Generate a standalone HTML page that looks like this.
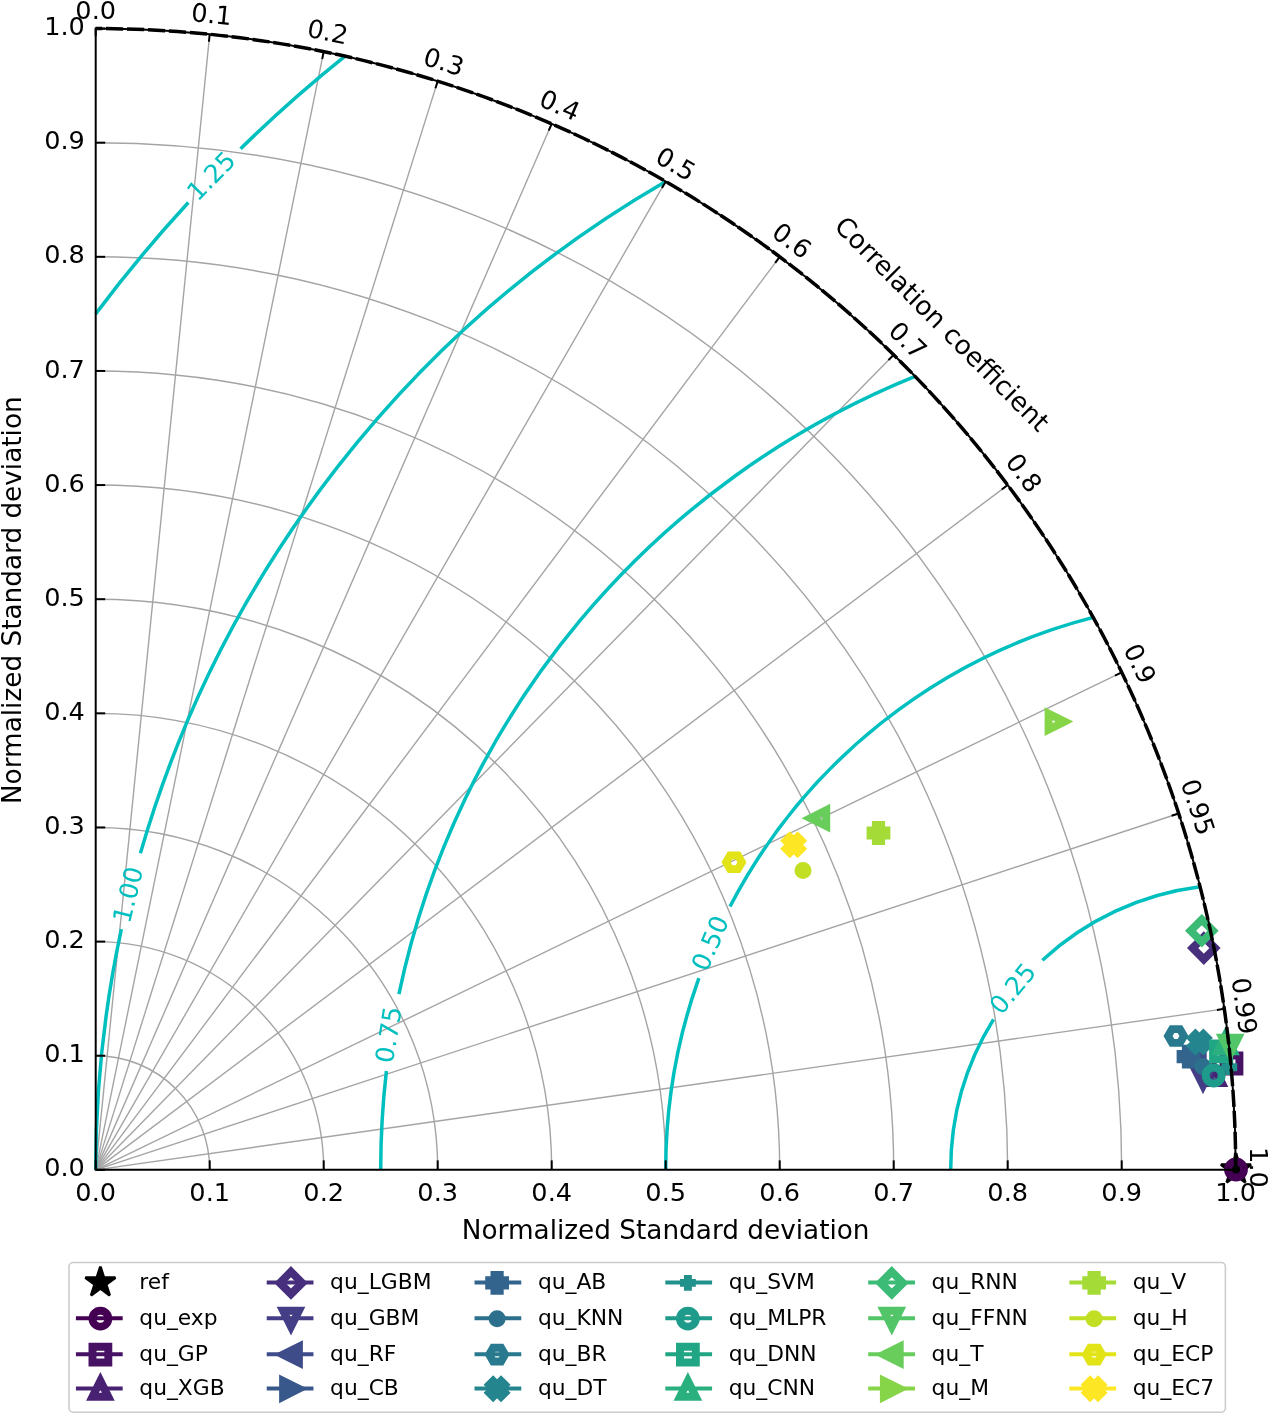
<!DOCTYPE html>
<html><head><meta charset="utf-8"><title>Taylor diagram</title>
<style>html,body{margin:0;padding:0;background:#fff}svg{display:block}</style></head>
<body>
<svg width="1268" height="1415" viewBox="0 0 1268 1415" font-family="DejaVu Sans, Liberation Sans, sans-serif">
<rect width="1268" height="1415" fill="#fff"/>
<defs><filter id="soft" x="0" y="0" width="100%" height="100%" filterUnits="userSpaceOnUse" color-interpolation-filters="sRGB"><feGaussianBlur stdDeviation="0.6"/></filter></defs>
<g filter="url(#soft)">
<rect width="1268" height="1415" fill="#fff"/>
<g stroke="#a4a4a4" stroke-width="1.4" fill="none">
<line x1="95.7" y1="1169.85" x2="209.70" y2="34.27"/>
<line x1="95.7" y1="1169.85" x2="323.70" y2="51.61"/>
<line x1="95.7" y1="1169.85" x2="437.70" y2="81.12"/>
<line x1="95.7" y1="1169.85" x2="551.70" y2="123.83"/>
<line x1="95.7" y1="1169.85" x2="665.70" y2="181.46"/>
<line x1="95.7" y1="1169.85" x2="779.70" y2="256.81"/>
<line x1="95.7" y1="1169.85" x2="893.70" y2="354.80"/>
<line x1="95.7" y1="1169.85" x2="1007.70" y2="485.07"/>
<line x1="95.7" y1="1169.85" x2="1121.70" y2="672.37"/>
<line x1="95.7" y1="1169.85" x2="1178.70" y2="813.48"/>
<line x1="95.7" y1="1169.85" x2="1224.30" y2="1008.85"/>
<path d="M95.7,1055.72 A114.00,114.13 0 0 1 209.70,1169.85"/>
<path d="M95.7,941.59 A228.00,228.26 0 0 1 323.70,1169.85"/>
<path d="M95.7,827.46 A342.00,342.39 0 0 1 437.70,1169.85"/>
<path d="M95.7,713.33 A456.00,456.52 0 0 1 551.70,1169.85"/>
<path d="M95.7,599.20 A570.00,570.65 0 0 1 665.70,1169.85"/>
<path d="M95.7,485.07 A684.00,684.78 0 0 1 779.70,1169.85"/>
<path d="M95.7,370.94 A798.00,798.91 0 0 1 893.70,1169.85"/>
<path d="M95.7,256.81 A912.00,913.04 0 0 1 1007.70,1169.85"/>
<path d="M95.7,142.68 A1026.00,1027.17 0 0 1 1121.70,1169.85"/>
</g>
<g><g stroke="#00bfbf" stroke-width="3.5" fill="none">
<path d="M95.70,313.88 A1425.00,1426.62 0 0 1 188.32,202.51"/>
<path d="M240.60,148.69 A1425.00,1426.62 0 0 1 345.07,56.19"/>
<path d="M95.70,1169.85 A1140.00,1141.30 0 0 1 121.36,929.06"/>
<path d="M140.41,853.35 A1140.00,1141.30 0 0 1 665.70,181.46"/>
<path d="M380.70,1169.85 A855.00,855.97 0 0 1 386.41,1071.07"/>
<path d="M398.93,994.02 A855.00,855.97 0 0 1 915.08,376.34"/>
<path d="M665.70,1169.85 A570.00,570.65 0 0 1 698.86,978.05"/>
<path d="M730.01,906.53 A570.00,570.65 0 0 1 1093.20,617.32"/>
<path d="M950.70,1169.85 A285.00,285.32 0 0 1 993.51,1019.45"/>
<path d="M1042.39,960.19 A285.00,285.32 0 0 1 1200.08,886.76"/>
</g></g>
<text x="210.90" y="175.70" transform="rotate(-45.80 210.90 175.70)" font-size="25.4" fill="#00bfbf" text-anchor="middle" dy="0.36em">1.25</text>
<text x="127.80" y="894.60" transform="rotate(-76.10 127.80 894.60)" font-size="25.4" fill="#00bfbf" text-anchor="middle" dy="0.36em">1.00</text>
<text x="388.30" y="1034.60" transform="rotate(-80.92 388.30 1034.60)" font-size="25.4" fill="#00bfbf" text-anchor="middle" dy="0.36em">0.75</text>
<text x="709.90" y="943.10" transform="rotate(-66.60 709.90 943.10)" font-size="25.4" fill="#00bfbf" text-anchor="middle" dy="0.36em">0.50</text>
<text x="1012.50" y="988.40" transform="rotate(-50.60 1012.50 988.40)" font-size="25.4" fill="#00bfbf" text-anchor="middle" dy="0.36em">0.25</text>
<polygon points="1236.00,1153.66 1232.44,1164.61 1220.94,1164.61 1230.25,1171.37 1226.69,1182.31 1236.00,1175.55 1245.31,1182.31 1241.75,1171.37 1251.06,1164.61 1239.56,1164.61" fill="#000" stroke="#000" stroke-width="2.64" stroke-linejoin="bevel"/>
<polygon points="1219.42,1072.00 1203.58,1079.92 1203.58,1064.08" fill="none" stroke="#38588c" stroke-width="7.92" stroke-linejoin="miter"/>
<circle cx="1236.00" cy="1169.50" r="7.92" fill="none" stroke="#440154" stroke-width="7.92"/>
<polygon points="1223.58,1071.42 1239.42,1071.42 1239.42,1055.58 1223.58,1055.58" fill="none" stroke="#471164" stroke-width="7.92" stroke-linejoin="miter"/>
<polygon points="1214.00,1067.08 1206.08,1082.92 1221.92,1082.92" fill="none" stroke="#482173" stroke-width="7.92" stroke-linejoin="miter"/>
<polygon points="1203.80,936.90 1215.00,948.10 1203.80,959.30 1192.60,948.10" fill="none" stroke="#472f7d" stroke-width="7.92" stroke-linejoin="miter"/>
<polygon points="1203.00,1085.32 1195.08,1069.48 1210.92,1069.48" fill="none" stroke="#433e85" stroke-width="7.92" stroke-linejoin="miter"/>
<polygon points="1186.88,1056.00 1202.72,1063.92 1202.72,1048.08" fill="none" stroke="#3e4c8a" stroke-width="7.92" stroke-linejoin="miter"/>
<polygon points="1185.86,1064.52 1191.14,1064.52 1191.14,1059.24 1196.42,1059.24 1196.42,1053.96 1191.14,1053.96 1191.14,1048.68 1185.86,1048.68 1185.86,1053.96 1180.58,1053.96 1180.58,1059.24 1185.86,1059.24" fill="none" stroke="#32648e" stroke-width="7.92" stroke-linejoin="miter"/>
<circle cx="1202.80" cy="1066.60" r="4.56" stroke="#2d708e" stroke-width="7.92" fill="#2d708e"/>
<polygon points="1183.92,1036.00 1179.96,1029.14 1172.04,1029.14 1168.08,1036.00 1172.04,1042.86 1179.96,1042.86" fill="none" stroke="#297a8e" stroke-width="7.92" stroke-linejoin="miter"/>
<polygon points="1195.44,1049.92 1199.40,1045.96 1203.36,1049.92 1207.32,1045.96 1203.36,1042.00 1207.32,1038.04 1203.36,1034.08 1199.40,1038.04 1195.44,1034.08 1191.48,1038.04 1195.44,1042.00 1191.48,1045.96" fill="none" stroke="#25858e" stroke-width="7.92" stroke-linejoin="miter"/>
<path d="M1221.38,1067.20 H1237.22 M1229.30,1059.28 V1075.12" fill="none" stroke="#21918c" stroke-width="7.92"/>
<circle cx="1213.70" cy="1075.50" r="7.92" fill="none" stroke="#1e9b8a" stroke-width="7.92"/>
<polygon points="1213.08,1059.32 1228.92,1059.32 1228.92,1043.48 1213.08,1043.48" fill="none" stroke="#21a685" stroke-width="7.92" stroke-linejoin="miter"/>
<polygon points="1225.50,1035.38 1217.58,1051.22 1233.42,1051.22" fill="none" stroke="#2ab07f" stroke-width="7.92" stroke-linejoin="miter"/>
<polygon points="1201.80,919.60 1213.00,930.80 1201.80,942.00 1190.60,930.80" fill="none" stroke="#3bbb75" stroke-width="7.92" stroke-linejoin="miter"/>
<polygon points="1230.20,1053.62 1222.28,1037.78 1238.12,1037.78" fill="none" stroke="#52c569" stroke-width="7.92" stroke-linejoin="miter"/>
<polygon points="810.38,818.20 826.22,826.12 826.22,810.28" fill="none" stroke="#69cd5b" stroke-width="7.92" stroke-linejoin="miter"/>
<polygon points="1064.42,721.60 1048.58,729.52 1048.58,713.68" fill="none" stroke="#86d549" stroke-width="7.92" stroke-linejoin="miter"/>
<polygon points="875.86,840.92 881.14,840.92 881.14,835.64 886.42,835.64 886.42,830.36 881.14,830.36 881.14,825.08 875.86,825.08 875.86,830.36 870.58,830.36 870.58,835.64 875.86,835.64" fill="none" stroke="#a5db36" stroke-width="7.92" stroke-linejoin="miter"/>
<circle cx="803.00" cy="870.50" r="4.56" stroke="#c2df23" stroke-width="7.92" fill="#c2df23"/>
<polygon points="741.92,862.30 737.96,855.44 730.04,855.44 726.08,862.30 730.04,869.16 737.96,869.16" fill="none" stroke="#e2e418" stroke-width="7.92" stroke-linejoin="miter"/>
<polygon points="789.74,852.62 793.70,848.66 797.66,852.62 801.62,848.66 797.66,844.70 801.62,840.74 797.66,836.78 793.70,840.74 789.74,836.78 785.78,840.74 789.74,844.70 785.78,848.66" fill="none" stroke="#fde725" stroke-width="7.92" stroke-linejoin="miter"/>
<g stroke="#000" stroke-width="2.00" fill="none">
<path d="M95.7,28.549999999999955 V1169.85 H1235.7" stroke-linecap="square"/>
<path d="M95.7,28.549999999999955 A1140.0,1141.3 0 0 1 1235.7,1169.85"/>
<line x1="95.7" y1="1169.85" x2="105.2" y2="1169.85"/>
<line x1="95.70" y1="1169.85" x2="95.70" y2="1160.35"/>
<line x1="95.7" y1="1055.72" x2="105.2" y2="1055.72"/>
<line x1="209.70" y1="1169.85" x2="209.70" y2="1160.35"/>
<line x1="95.7" y1="941.59" x2="105.2" y2="941.59"/>
<line x1="323.70" y1="1169.85" x2="323.70" y2="1160.35"/>
<line x1="95.7" y1="827.46" x2="105.2" y2="827.46"/>
<line x1="437.70" y1="1169.85" x2="437.70" y2="1160.35"/>
<line x1="95.7" y1="713.33" x2="105.2" y2="713.33"/>
<line x1="551.70" y1="1169.85" x2="551.70" y2="1160.35"/>
<line x1="95.7" y1="599.20" x2="105.2" y2="599.20"/>
<line x1="665.70" y1="1169.85" x2="665.70" y2="1160.35"/>
<line x1="95.7" y1="485.07" x2="105.2" y2="485.07"/>
<line x1="779.70" y1="1169.85" x2="779.70" y2="1160.35"/>
<line x1="95.7" y1="370.94" x2="105.2" y2="370.94"/>
<line x1="893.70" y1="1169.85" x2="893.70" y2="1160.35"/>
<line x1="95.7" y1="256.81" x2="105.2" y2="256.81"/>
<line x1="1007.70" y1="1169.85" x2="1007.70" y2="1160.35"/>
<line x1="95.7" y1="142.68" x2="105.2" y2="142.68"/>
<line x1="1121.70" y1="1169.85" x2="1121.70" y2="1160.35"/>
<line x1="95.7" y1="28.55" x2="105.2" y2="28.55"/>
<line x1="1235.70" y1="1169.85" x2="1235.70" y2="1160.35"/>
<line x1="95.70" y1="28.55" x2="95.70" y2="36.05"/>
<line x1="209.70" y1="34.27" x2="208.95" y2="41.73"/>
<line x1="323.70" y1="51.61" x2="322.20" y2="58.96"/>
<line x1="437.70" y1="81.12" x2="435.45" y2="88.27"/>
<line x1="551.70" y1="123.83" x2="548.70" y2="130.71"/>
<line x1="665.70" y1="181.46" x2="661.95" y2="187.95"/>
<line x1="779.70" y1="256.81" x2="775.20" y2="262.81"/>
<line x1="893.70" y1="354.80" x2="888.45" y2="360.15"/>
<line x1="1007.70" y1="485.07" x2="1001.70" y2="489.57"/>
<line x1="1121.70" y1="672.37" x2="1114.95" y2="675.64"/>
<line x1="1178.70" y1="813.48" x2="1171.58" y2="815.82"/>
<line x1="1224.30" y1="1008.85" x2="1216.88" y2="1009.91"/>
<line x1="1235.70" y1="1169.85" x2="1228.20" y2="1169.85"/>
</g>
<path d="M1235.7,1169.85 A1140.0,1141.3 0 0 0 95.7,28.549999999999955" stroke="#000" stroke-width="3.5" stroke-dasharray="17.2 3.8" fill="none"/>
<g font-size="25.6" fill="#000">
<text x="84.90" y="1176.45" text-anchor="end">0.0</text>
<text x="95.70" y="1201.3" text-anchor="middle">0.0</text>
<text x="84.90" y="1062.32" text-anchor="end">0.1</text>
<text x="209.70" y="1201.3" text-anchor="middle">0.1</text>
<text x="84.90" y="948.19" text-anchor="end">0.2</text>
<text x="323.70" y="1201.3" text-anchor="middle">0.2</text>
<text x="84.90" y="834.06" text-anchor="end">0.3</text>
<text x="437.70" y="1201.3" text-anchor="middle">0.3</text>
<text x="84.90" y="719.93" text-anchor="end">0.4</text>
<text x="551.70" y="1201.3" text-anchor="middle">0.4</text>
<text x="84.90" y="605.80" text-anchor="end">0.5</text>
<text x="665.70" y="1201.3" text-anchor="middle">0.5</text>
<text x="84.90" y="491.67" text-anchor="end">0.6</text>
<text x="779.70" y="1201.3" text-anchor="middle">0.6</text>
<text x="84.90" y="377.54" text-anchor="end">0.7</text>
<text x="893.70" y="1201.3" text-anchor="middle">0.7</text>
<text x="84.90" y="263.41" text-anchor="end">0.8</text>
<text x="1007.70" y="1201.3" text-anchor="middle">0.8</text>
<text x="84.90" y="149.28" text-anchor="end">0.9</text>
<text x="1121.70" y="1201.3" text-anchor="middle">0.9</text>
<text x="84.90" y="35.15" text-anchor="end">1.0</text>
<text x="1235.70" y="1201.3" text-anchor="middle">1.0</text>
<text x="95.70" y="9.55" transform="rotate(0.00 95.70 9.55)" text-anchor="middle" dy="0.36em">0.0</text>
<text x="211.75" y="13.87" transform="rotate(5.74 211.75 13.87)" text-anchor="middle" dy="0.36em">0.1</text>
<text x="327.80" y="31.52" transform="rotate(11.54 327.80 31.52)" text-anchor="middle" dy="0.36em">0.2</text>
<text x="443.85" y="61.56" transform="rotate(17.46 443.85 61.56)" text-anchor="middle" dy="0.36em">0.3</text>
<text x="559.90" y="105.04" transform="rotate(23.58 559.90 105.04)" text-anchor="middle" dy="0.36em">0.4</text>
<text x="675.95" y="163.70" transform="rotate(30.00 675.95 163.70)" text-anchor="middle" dy="0.36em">0.5</text>
<text x="792.00" y="240.41" transform="rotate(36.87 792.00 240.41)" text-anchor="middle" dy="0.36em">0.6</text>
<text x="908.05" y="340.16" transform="rotate(44.43 908.05 340.16)" text-anchor="middle" dy="0.36em">0.7</text>
<text x="1024.10" y="472.77" transform="rotate(53.13 1024.10 472.77)" text-anchor="middle" dy="0.36em">0.8</text>
<text x="1140.15" y="663.43" transform="rotate(64.16 1140.15 663.43)" text-anchor="middle" dy="0.36em">0.9</text>
<text x="1198.17" y="807.08" transform="rotate(71.81 1198.17 807.08)" text-anchor="middle" dy="0.36em">0.95</text>
<text x="1244.60" y="1005.96" transform="rotate(81.89 1244.60 1005.96)" text-anchor="middle" dy="0.36em">0.99</text>
<text x="1259.20" y="1167.45" transform="rotate(90.00 1259.20 1167.45)" text-anchor="middle" dy="0.36em">1.0</text>
</g>
<g font-size="26.3" fill="#000">
<text x="665.7" y="1238.7" text-anchor="middle">Normalized Standard deviation</text>
<text x="21.3" y="600.2" transform="rotate(-90 21.3 600.2)" text-anchor="middle">Normalized Standard deviation</text>
<text x="942.4" y="323.6" transform="rotate(45 942.4 323.6)" text-anchor="middle" dy="0.36em">Correlation coefficient</text>
</g>
<rect x="69" y="1262.5" width="1156.4" height="149.70000000000005" rx="4.2" fill="#fff" fill-opacity="0.8" stroke="#ccc" stroke-width="1.6"/>
<g font-size="21.8" fill="#000">
<polygon points="100.40,1266.66 96.84,1277.61 85.34,1277.61 94.65,1284.37 91.09,1295.31 100.40,1288.55 109.71,1295.31 106.15,1284.37 115.46,1277.61 103.96,1277.61" fill="#000" stroke="#000" stroke-width="2.64" stroke-linejoin="bevel"/>
<text x="139.30" y="1289.30">ref</text>
<line x1="77.90" y1="1318.30" x2="120.70" y2="1318.30" stroke="#440154" stroke-width="3.96" stroke-linecap="square"/>
<circle cx="100.40" cy="1318.70" r="7.92" fill="none" stroke="#440154" stroke-width="7.92"/>
<text x="139.30" y="1325.10">qu_exp</text>
<line x1="77.90" y1="1354.20" x2="120.70" y2="1354.20" stroke="#471164" stroke-width="3.96" stroke-linecap="square"/>
<polygon points="92.48,1362.52 108.32,1362.52 108.32,1346.68 92.48,1346.68" fill="none" stroke="#471164" stroke-width="7.92" stroke-linejoin="miter"/>
<text x="139.30" y="1361.00">qu_GP</text>
<line x1="77.90" y1="1388.40" x2="120.70" y2="1388.40" stroke="#482173" stroke-width="3.96" stroke-linecap="square"/>
<polygon points="100.40,1380.88 92.48,1396.72 108.32,1396.72" fill="none" stroke="#482173" stroke-width="7.92" stroke-linejoin="miter"/>
<text x="139.30" y="1395.20">qu_XGB</text>
<line x1="268.70" y1="1282.50" x2="311.50" y2="1282.50" stroke="#472f7d" stroke-width="3.96" stroke-linecap="square"/>
<polygon points="291.00,1271.70 302.20,1282.90 291.00,1294.10 279.80,1282.90" fill="none" stroke="#472f7d" stroke-width="7.92" stroke-linejoin="miter"/>
<text x="330.10" y="1289.30">qu_LGBM</text>
<line x1="268.70" y1="1318.30" x2="311.50" y2="1318.30" stroke="#433e85" stroke-width="3.96" stroke-linecap="square"/>
<polygon points="291.00,1326.62 283.08,1310.78 298.92,1310.78" fill="none" stroke="#433e85" stroke-width="7.92" stroke-linejoin="miter"/>
<text x="330.10" y="1325.10">qu_GBM</text>
<line x1="268.70" y1="1354.20" x2="311.50" y2="1354.20" stroke="#3e4c8a" stroke-width="3.96" stroke-linecap="square"/>
<polygon points="283.08,1354.60 298.92,1362.52 298.92,1346.68" fill="none" stroke="#3e4c8a" stroke-width="7.92" stroke-linejoin="miter"/>
<text x="330.10" y="1361.00">qu_RF</text>
<line x1="268.70" y1="1388.40" x2="311.50" y2="1388.40" stroke="#38588c" stroke-width="3.96" stroke-linecap="square"/>
<polygon points="298.92,1388.80 283.08,1396.72 283.08,1380.88" fill="none" stroke="#38588c" stroke-width="7.92" stroke-linejoin="miter"/>
<text x="330.10" y="1395.20">qu_CB</text>
<line x1="476.50" y1="1282.50" x2="519.30" y2="1282.50" stroke="#32648e" stroke-width="3.96" stroke-linecap="square"/>
<polygon points="494.46,1290.82 499.74,1290.82 499.74,1285.54 505.02,1285.54 505.02,1280.26 499.74,1280.26 499.74,1274.98 494.46,1274.98 494.46,1280.26 489.18,1280.26 489.18,1285.54 494.46,1285.54" fill="none" stroke="#32648e" stroke-width="7.92" stroke-linejoin="miter"/>
<text x="537.90" y="1289.30">qu_AB</text>
<line x1="476.50" y1="1318.30" x2="519.30" y2="1318.30" stroke="#2d708e" stroke-width="3.96" stroke-linecap="square"/>
<circle cx="497.10" cy="1318.70" r="4.56" stroke="#2d708e" stroke-width="7.92" fill="#2d708e"/>
<text x="537.90" y="1325.10">qu_KNN</text>
<line x1="476.50" y1="1354.20" x2="519.30" y2="1354.20" stroke="#297a8e" stroke-width="3.96" stroke-linecap="square"/>
<polygon points="505.02,1354.60 501.06,1347.74 493.14,1347.74 489.18,1354.60 493.14,1361.46 501.06,1361.46" fill="none" stroke="#297a8e" stroke-width="7.92" stroke-linejoin="miter"/>
<text x="537.90" y="1361.00">qu_BR</text>
<line x1="476.50" y1="1388.40" x2="519.30" y2="1388.40" stroke="#25858e" stroke-width="3.96" stroke-linecap="square"/>
<polygon points="493.14,1396.72 497.10,1392.76 501.06,1396.72 505.02,1392.76 501.06,1388.80 505.02,1384.84 501.06,1380.88 497.10,1384.84 493.14,1380.88 489.18,1384.84 493.14,1388.80 489.18,1392.76" fill="none" stroke="#25858e" stroke-width="7.92" stroke-linejoin="miter"/>
<text x="537.90" y="1395.20">qu_DT</text>
<line x1="667.30" y1="1282.50" x2="710.10" y2="1282.50" stroke="#21918c" stroke-width="3.96" stroke-linecap="square"/>
<path d="M679.98,1282.90 H695.82 M687.90,1274.98 V1290.82" fill="none" stroke="#21918c" stroke-width="7.92"/>
<text x="728.70" y="1289.30">qu_SVM</text>
<line x1="667.30" y1="1318.30" x2="710.10" y2="1318.30" stroke="#1e9b8a" stroke-width="3.96" stroke-linecap="square"/>
<circle cx="687.90" cy="1318.70" r="7.92" fill="none" stroke="#1e9b8a" stroke-width="7.92"/>
<text x="728.70" y="1325.10">qu_MLPR</text>
<line x1="667.30" y1="1354.20" x2="710.10" y2="1354.20" stroke="#21a685" stroke-width="3.96" stroke-linecap="square"/>
<polygon points="679.98,1362.52 695.82,1362.52 695.82,1346.68 679.98,1346.68" fill="none" stroke="#21a685" stroke-width="7.92" stroke-linejoin="miter"/>
<text x="728.70" y="1361.00">qu_DNN</text>
<line x1="667.30" y1="1388.40" x2="710.10" y2="1388.40" stroke="#2ab07f" stroke-width="3.96" stroke-linecap="square"/>
<polygon points="687.90,1380.88 679.98,1396.72 695.82,1396.72" fill="none" stroke="#2ab07f" stroke-width="7.92" stroke-linejoin="miter"/>
<text x="728.70" y="1395.20">qu_CNN</text>
<line x1="870.20" y1="1282.50" x2="913.00" y2="1282.50" stroke="#3bbb75" stroke-width="3.96" stroke-linecap="square"/>
<polygon points="891.80,1271.70 903.00,1282.90 891.80,1294.10 880.60,1282.90" fill="none" stroke="#3bbb75" stroke-width="7.92" stroke-linejoin="miter"/>
<text x="931.60" y="1289.30">qu_RNN</text>
<line x1="870.20" y1="1318.30" x2="913.00" y2="1318.30" stroke="#52c569" stroke-width="3.96" stroke-linecap="square"/>
<polygon points="891.80,1326.62 883.88,1310.78 899.72,1310.78" fill="none" stroke="#52c569" stroke-width="7.92" stroke-linejoin="miter"/>
<text x="931.60" y="1325.10">qu_FFNN</text>
<line x1="870.20" y1="1354.20" x2="913.00" y2="1354.20" stroke="#69cd5b" stroke-width="3.96" stroke-linecap="square"/>
<polygon points="883.88,1354.60 899.72,1362.52 899.72,1346.68" fill="none" stroke="#69cd5b" stroke-width="7.92" stroke-linejoin="miter"/>
<text x="931.60" y="1361.00">qu_T</text>
<line x1="870.20" y1="1388.40" x2="913.00" y2="1388.40" stroke="#86d549" stroke-width="3.96" stroke-linecap="square"/>
<polygon points="899.72,1388.80 883.88,1396.72 883.88,1380.88" fill="none" stroke="#86d549" stroke-width="7.92" stroke-linejoin="miter"/>
<text x="931.60" y="1395.20">qu_M</text>
<line x1="1071.35" y1="1282.50" x2="1114.15" y2="1282.50" stroke="#a5db36" stroke-width="3.96" stroke-linecap="square"/>
<polygon points="1091.46,1290.82 1096.74,1290.82 1096.74,1285.54 1102.02,1285.54 1102.02,1280.26 1096.74,1280.26 1096.74,1274.98 1091.46,1274.98 1091.46,1280.26 1086.18,1280.26 1086.18,1285.54 1091.46,1285.54" fill="none" stroke="#a5db36" stroke-width="7.92" stroke-linejoin="miter"/>
<text x="1132.75" y="1289.30">qu_V</text>
<line x1="1071.35" y1="1318.30" x2="1114.15" y2="1318.30" stroke="#c2df23" stroke-width="3.96" stroke-linecap="square"/>
<circle cx="1094.10" cy="1318.70" r="4.56" stroke="#c2df23" stroke-width="7.92" fill="#c2df23"/>
<text x="1132.75" y="1325.10">qu_H</text>
<line x1="1071.35" y1="1354.20" x2="1114.15" y2="1354.20" stroke="#e2e418" stroke-width="3.96" stroke-linecap="square"/>
<polygon points="1102.02,1354.60 1098.06,1347.74 1090.14,1347.74 1086.18,1354.60 1090.14,1361.46 1098.06,1361.46" fill="none" stroke="#e2e418" stroke-width="7.92" stroke-linejoin="miter"/>
<text x="1132.75" y="1361.00">qu_ECP</text>
<line x1="1071.35" y1="1388.40" x2="1114.15" y2="1388.40" stroke="#fde725" stroke-width="3.96" stroke-linecap="square"/>
<polygon points="1090.14,1396.72 1094.10,1392.76 1098.06,1396.72 1102.02,1392.76 1098.06,1388.80 1102.02,1384.84 1098.06,1380.88 1094.10,1384.84 1090.14,1380.88 1086.18,1384.84 1090.14,1388.80 1086.18,1392.76" fill="none" stroke="#fde725" stroke-width="7.92" stroke-linejoin="miter"/>
<text x="1132.75" y="1395.20">qu_EC7</text>
</g>
</g>
</svg>
</body></html>
